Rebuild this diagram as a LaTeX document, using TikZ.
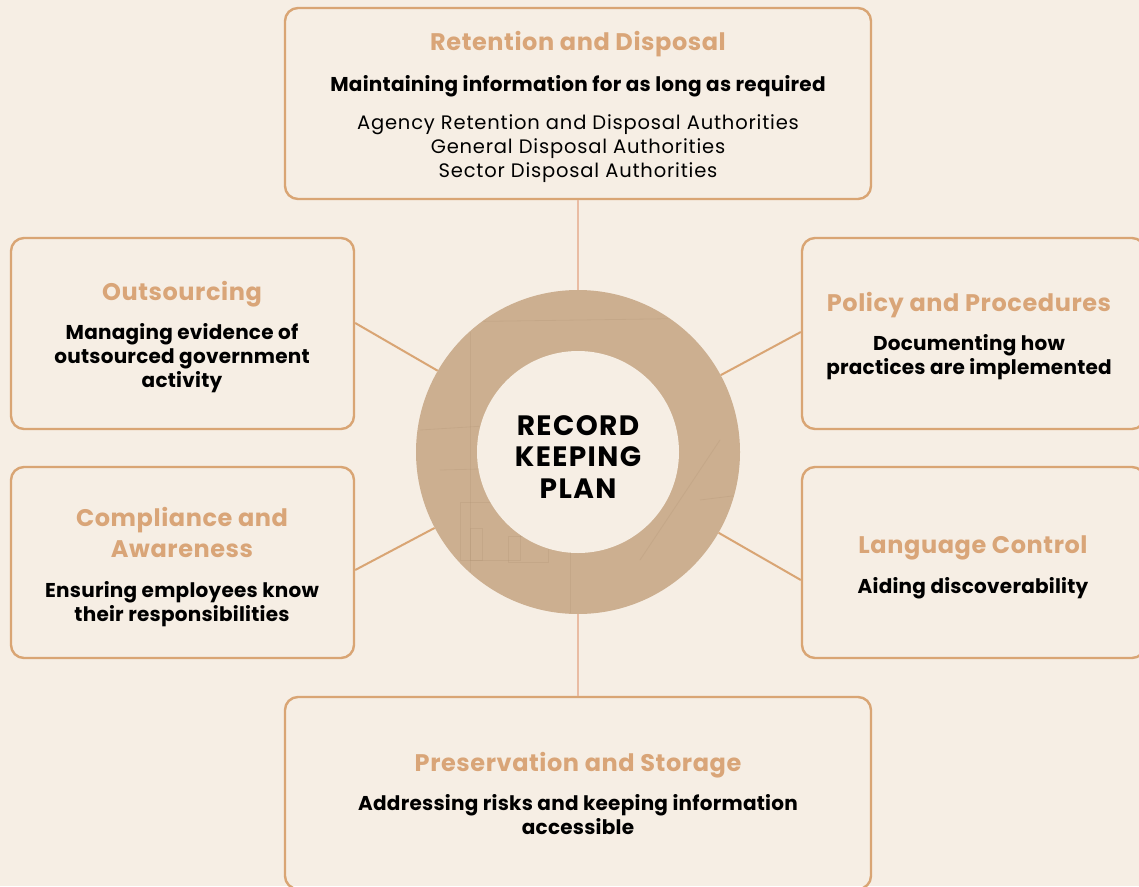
\documentclass[tikz,border=0pt]{standalone}
\usepackage{fontspec}
\setmainfont{Poppins}
\newfontfamily\ttlfont{Poppins}[LetterSpace=2.4]
\newfontfamily\subfont{Poppins}[LetterSpace=1.2]
\newfontfamily\txtfont{Poppins}[LetterSpace=4.2]
\newfontfamily\ctrfont{Poppins}[LetterSpace=5]
\definecolor{bg}{HTML}{F6EEE4}
\definecolor{boxline}{HTML}{D9A574}
\definecolor{ttlcol}{HTML}{D9A578}
\definecolor{vline}{HTML}{E9BCA3}
\definecolor{ringcol}{HTML}{CCAF90}
\definecolor{sketch}{HTML}{A88A6A}
\begin{document}
\begin{tikzpicture}[x=1pt,y=-1pt,
  card/.style={draw=boxline, line width=2.4pt, rounded corners=13pt,
    minimum height=191pt, inner sep=0pt},
  ttl/.style={anchor=base, text=ttlcol, font=\ttlfont\fontsize{24}{30}\bfseries\selectfont, inner sep=0pt},
  sub/.style={anchor=base, text=black, font=\subfont\fontsize{20}{24}\bfseries\selectfont, inner sep=0pt},
  txt/.style={anchor=base, text=black, font=\txtfont\fontsize{19.5}{24}\selectfont, inner sep=0pt},
  ctr/.style={anchor=base, text=black, font=\ctrfont\fontsize{28}{32}\bfseries\selectfont, inner sep=0pt},
  spoke/.style={draw=boxline, line width=2pt},
  stem/.style={draw=vline, line width=2.4pt},
  faint/.style={draw=sketch, line width=0.8pt, opacity=0.2}]

% canvas
\fill[bg] (0,0) rectangle (1139,886);
\useasboundingbox (0,0) rectangle (1139,886);

% central ring with a faint paper sketch texture
\node[circle, fill=ringcol, minimum size=324pt, inner sep=0pt] (ring) at (578,452) {};
\begin{scope}
  \clip (578,452) circle (161pt);
  \draw[faint] (440,322) -- (720,318);
  \draw[faint] (470,300) -- (470,620);
  \draw[faint] (420,430) -- (500,425) -- (520,445);
  \draw[faint] (440,470) -- (520,468);
  \draw[faint] (460,502) rectangle (520,560);
  \draw[faint] (470,528) rectangle (482,560);
  \draw[faint] (508,536) rectangle (548,562);
  \draw[faint] (570,520) -- (570,620);
  \draw[faint] (700,500) -- (740,495);
  \draw[faint] (640,560) -- (720,440);
\end{scope}
\node[circle, fill=bg, minimum size=202pt, inner sep=0pt] (hole) at (578,452) {};

% cards
\node[card, minimum width=586pt] (top) at (578,103.5) {};
\node[card, minimum width=343pt] (outs) at (182.5,333.5) {};
\node[card, minimum width=343pt] (comp) at (182.5,562.5) {};
\node[card, minimum width=343pt] (pol) at (973.5,333.5) {};
\node[card, minimum width=343pt] (lang) at (973.5,562.5) {};
\node[card, minimum width=586pt, minimum height=192pt] (bot) at (578,793) {};

% connectors
\draw[stem] (top.south) -- (ring.north);
\draw[stem] (ring.south) -- (bot.north);
\draw[spoke] (ring) -- ([yshift=10.5pt]outs.east);
\draw[spoke] (ring) -- ([yshift=-7.5pt]comp.east);
\draw[spoke] (ring) -- ([yshift=1.5pt]pol.west);
\draw[spoke] (ring) -- ([yshift=-17.5pt]lang.west);

% centre label
\node[ctr] (c1) at (578,435) {RECORD};
\node[ctr] (c2) at (578,466) {KEEPING};
\node[ctr] (c3) at (578,498) {PLAN};

% retention and disposal
\node[ttl] (t1) at (578,50) {Retention and Disposal};
\node[sub] (t2) at (578,91) {Maintaining information for as long as required};
\node[txt] (t3) at (578,129) {Agency Retention and Disposal Authorities};
\node[txt] (t4) at (578,153) {General Disposal Authorities};
\node[txt] (t5) at (578,177) {Sector Disposal Authorities};

% outsourcing
\node[ttl] (o1) at (182,300) {Outsourcing};
\node[sub] (o2) at (182,339) {Managing evidence of};
\node[sub] (o3) at (182,363) {outsourced government};
\node[sub] (o4) at (182,387) {activity};

% compliance and awareness
\node[ttl] (k1) at (182,526) {Compliance and};
\node[ttl] (k2) at (182,557) {Awareness};
\node[sub] (k3) at (182,597) {Ensuring employees know};
\node[sub] (k4) at (182,621) {their responsibilities};

% policy and procedures
\node[ttl] (p1) at (969,311) {Policy and Procedures};
\node[sub] (p2) at (969,350) {Documenting how};
\node[sub] (p3) at (969,374) {practices are implemented};

% language control
\node[ttl] (l1) at (973,553) {Language Control};
\node[sub] (l2) at (973,593) {Aiding discoverability};

% preservation and storage
\node[ttl] (s1) at (578,771) {Preservation and Storage};
\node[sub] (s2) at (578,810) {Addressing risks and keeping information};
\node[sub] (s3) at (578,834) {accessible};
\end{tikzpicture}
\end{document}
